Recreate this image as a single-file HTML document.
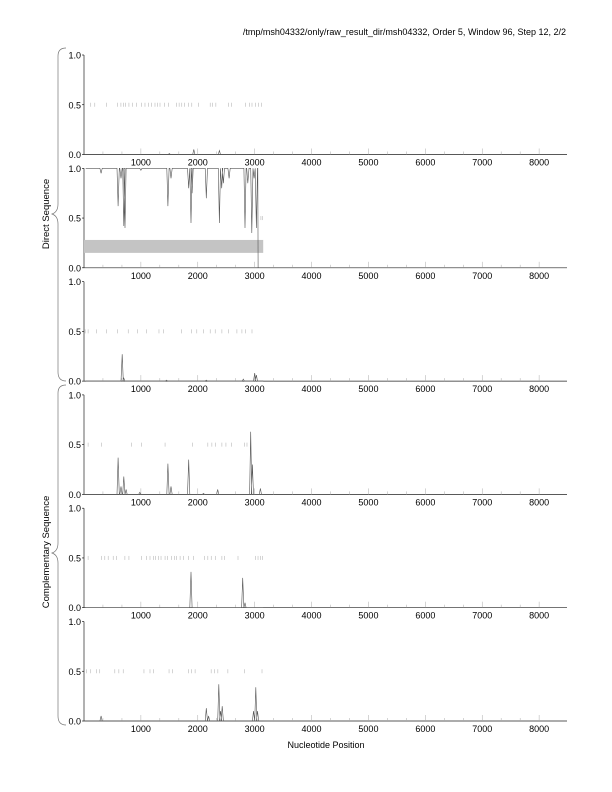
<!DOCTYPE html>
<html><head><meta charset="utf-8"><style>
body{margin:0;background:#fff;}
svg{display:block;font-family:"Liberation Sans",sans-serif;}
</style></head><body>
<svg id="chart" width="612" height="792" viewBox="0 0 612 792">
<text x="566" y="35" font-size="9" text-anchor="end" fill="#000">/tmp/msh04332/only/raw_result_dir/msh04332, Order 5, Window 96, Step 12, 2/2</text>
<text transform="translate(49,214) rotate(-90)" font-size="9.5" text-anchor="middle">Direct Sequence</text>
<text transform="translate(49,552) rotate(-90)" font-size="9.5" text-anchor="middle">Complementary Sequence</text>
<path d="M66,48 Q58,48 58,56 L58,204 Q58,212 52,214 Q58,216 58,224 L58,372 Q58,381 66,381" fill="none" stroke="#777" stroke-width="0.7"/>
<path d="M66,385 Q58,385 58,393 L58,543 Q58,551 52,553 Q58,555 58,563 L58,716 Q58,725 66,725" fill="none" stroke="#777" stroke-width="0.7"/>
<text x="326" y="748" font-size="9" text-anchor="middle">Nucleotide Position</text>
<g id="panels"></g>
</svg>
<script>
const xTicks=[1000,2000,3000,4000,5000,6000,7000,8000];
const yTicks=[0,0.5,1.0];
const stops1=[119,190,396,590,649,690,731,790,848,925,1013,1072,1131,1189,1248,1295,1336,1413,1483,1630,1672,1719,1766,1836,1895,2013,2218,2260,2318,2542,2589,2836,2906,2953,3012,3071,3118];
const peakPos1=[1500,1930,2380];
const peakVal1=[0.01,0.05,0.04];
const stops2=[3110,3140];
const dipPos2=[300,600,650,700,720,1000,1475,1530,1840,1880,1900,2150,2380,2420,2450,2550,2830,2880,2950,2990,3030];
const dipVal2=[0.95,0.62,0.9,0.42,0.4,0.98,0.62,0.9,0.8,0.45,0.75,0.7,0.45,0.8,0.85,0.9,0.4,0.85,0.35,0.9,0.4];
const stops3=[20,72,219,395,589,777,942,1101,1318,1395,1718,1894,1983,2100,2218,2306,2424,2541,2688,2776,2835,2953];
const peakPos3=[671,700,1450,2150,2800,3000,3030];
const peakVal3=[0.27,0.03,0.01,0.01,0.02,0.08,0.06];
const stops4=[72,307,837,1013,1425,1907,2177,2248,2307,2424,2495,2589,2824,2865];
const peakPos4=[600,650,700,740,980,1475,1530,1840,2100,2350,2930,2960,3100];
const peakVal4=[0.37,0.08,0.18,0.05,0.02,0.31,0.08,0.35,0.01,0.05,0.63,0.3,0.06];
const stops5=[72,307,366,425,513,572,719,790,1013,1101,1160,1219,1260,1307,1354,1425,1472,1542,1589,1630,1689,1748,1836,1924,2118,2177,2236,2307,2424,2471,2707,3012,3059,3100,3142];
const peakPos5=[1880,2790,2830];
const peakVal5=[0.36,0.3,0.05];
const stops6=[42,119,219,277,542,613,689,1054,1160,1218,1495,1553,1836,1894,1953,2235,2294,2353,2529,2818,3129];
const peakPos6=[300,2150,2190,2370,2400,2430,2980,3020,3050];
const peakVal6=[0.05,0.13,0.05,0.37,0.1,0.15,0.1,0.34,0.1];
const shadeRange=[0,3150,0.15,0.28];
const drop2=3060;

const NS="http://www.w3.org/2000/svg";
const X0=84, X1=567, XMAX=8490;
const xs=v=>X0+v/XMAX*(X1-X0);
const root=document.getElementById('panels');
function el(tag,attrs,parent){const e=document.createElementNS(NS,tag);for(const k in attrs)e.setAttribute(k,attrs[k]);(parent||root).appendChild(e);return e;}
const panels=[
 {stops:stops1,pos:peakPos1,val:peakVal1,dip:false},
 {stops:stops2,pos:dipPos2,val:dipVal2,dip:true},
 {stops:stops3,pos:peakPos3,val:peakVal3,dip:false},
 {stops:stops4,pos:peakPos4,val:peakVal4,dip:false},
 {stops:stops5,pos:peakPos5,val:peakVal5,dip:false},
 {stops:stops6,pos:peakPos6,val:peakVal6,dip:false}];
panels.forEach((p,i)=>{
 const top=55+113.3*i, h=99.5, bot=top+h;
 const ys=v=>bot-v*h;
 const g=el('g',{});
 
 
 const ax=el('path',{d:`M${X0},${top} L${X0},${bot} L${X1},${bot}`,fill:'none',stroke:'#222','stroke-width':0.7},g);
 
 
 yTicks.forEach(t=>{
  const tx=el('text',{x:X0-3,y:ys(t)+3.5,'font-size':9,'text-anchor':'end'},g);tx.textContent=t.toFixed(1);
  
  
  el('line',{x1:X0-2,x2:X0,y1:ys(t),y2:ys(t),stroke:'#000','stroke-width':0.6},g);
 });
 xTicks.forEach(t=>{
  el('line',{x1:xs(t),x2:xs(t),y1:bot,y2:bot-6,stroke:'#aaa','stroke-width':0.5},g);
  el('line',{x1:xs(t-333),x2:xs(t-333),y1:bot,y2:bot-3,stroke:'#aaa','stroke-width':0.5},g);
  el('line',{x1:xs(t-667),x2:xs(t-667),y1:bot,y2:bot-3,stroke:'#aaa','stroke-width':0.5},g);
  const tx=el('text',{x:xs(t),y:bot+11,'font-size':9,'text-anchor':'middle'},g);tx.textContent=t;
  
  
 });
 if(i===1){
  const r=el('rect',{x:xs(shadeRange[0]),y:ys(shadeRange[3]),width:xs(shadeRange[1])-xs(shadeRange[0]),height:ys(shadeRange[2])-ys(shadeRange[3]),fill:'#c4c4c4'},g);
  
  
 }
 p.stops.forEach(s=>{
  const l=el('line',{x1:xs(s),x2:xs(s),y1:ys(0.5)-2,y2:ys(0.5)+2,stroke:'#aaa','stroke-width':0.5},g);
  
  
 });
 const base=p.dip?1:0;
 let pts=[[30,base]];
 p.pos.forEach((x,k)=>{pts.push([x-20,base]);pts.push([x,p.val[k]]);pts.push([x+20,base]);});
 if(p.dip){pts.push([drop2-5,1]);pts.push([drop2,0]);}
 else pts.push([3150,0]);
 const d=pts.map((q,k)=>(k?'L':'M')+xs(q[0]).toFixed(1)+','+ys(q[1]).toFixed(1)).join(' ');
 const ln=el('path',{d:d,fill:'none',stroke:'#555','stroke-width':0.6},g);
 
 
});
</script>
</body></html>
